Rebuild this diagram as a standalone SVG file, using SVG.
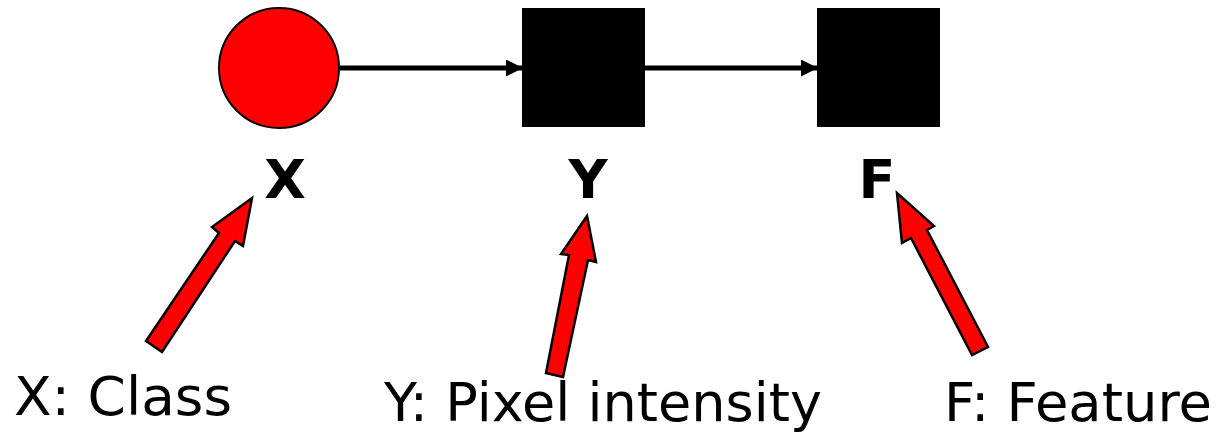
<svg xmlns="http://www.w3.org/2000/svg" width="1221" height="433" viewBox="0 0 1221 433">
<style>
.lbl{font-family:"DejaVu Sans","Liberation Sans",sans-serif;font-size:54px;font-weight:bold;fill:#000;text-anchor:middle}
.cap{font-family:"DejaVu Sans","Liberation Sans",sans-serif;font-size:54px;fill:#000}
.edge{stroke:#000;stroke-width:5;fill:none}
.ptr{fill:#ff0000;stroke:#000;stroke-width:2.5;stroke-linejoin:miter}
</style>
<defs>
<marker id="ah" markerUnits="userSpaceOnUse" markerWidth="17" markerHeight="17" refX="16" refY="8.5" orient="auto" viewBox="0 0 17 17">
<path d="M0,0 L17,8.5 L0,17 Z" fill="#000"/>
</marker>
</defs>
<rect width="1221" height="433" fill="#fff"/>
<g id="connectors">
<line class="edge" x1="340" y1="68" x2="522" y2="68" marker-end="url(#ah)"/>
<line class="edge" x1="645" y1="68" x2="817" y2="68" marker-end="url(#ah)"/>
</g>
<g id="node-x">
<circle cx="279" cy="68" r="60" fill="#ff0000" stroke="#000" stroke-width="2"/>
<text class="lbl" x="285" y="198">X</text>
</g>
<g id="node-y">
<rect x="522" y="8" width="123" height="119" fill="#000"/>
<text class="lbl" x="588" y="198">Y</text>
</g>
<g id="node-f">
<rect x="817" y="8" width="123" height="119" fill="#000"/>
<text class="lbl" x="877" y="198">F</text>
</g>
<g id="pointer-x">
<polygon class="ptr" points="146,341 219,233 212,227 252,198 243,246 235,241 162,352"/>
<text class="cap" x="14" y="415" textLength="218" lengthAdjust="spacingAndGlyphs">X: Class</text>
</g>
<g id="pointer-y">
<polygon class="ptr" points="546,373 569,255 561,254 587,216 596,262 588,260 563,377"/>
<text class="cap" x="384" y="421" textLength="438" lengthAdjust="spacingAndGlyphs">Y: Pixel intensity</text>
</g>
<g id="pointer-f">
<polygon class="ptr" points="972,355 911,238 902,243 897,193 934,226 927,230 988,347"/>
<text class="cap" x="944" y="421" textLength="268" lengthAdjust="spacingAndGlyphs">F: Feature</text>
</g>
</svg>
